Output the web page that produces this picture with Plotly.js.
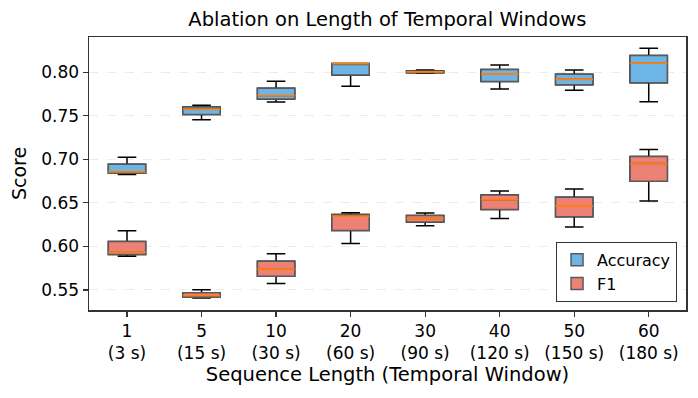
<!DOCTYPE html>
<html>
<head>
<meta charset="utf-8">
<script src="https://cdn.plot.ly/plotly-3.0.1.min.js"></script>
<style>
  html, body { margin: 0; padding: 0; background: #fff; }
  #chart { width: 698px; height: 398px; }
</style>
</head>
<body>
<div id="chart"></div>
<script>
// sequence lengths and their windows
var seqLens = ['1', '5', '10', '20', '30', '40', '50', '60'];
var windows = ['3 s', '15 s', '30 s', '60 s', '90 s', '120 s', '150 s', '180 s'];

// Accuracy box stats
var accLow = [0.6825, 0.7455, 0.7658, 0.7839, 0.7990, 0.7808, 0.7793, 0.7662];
var accQ1  = [0.6840, 0.7516, 0.7693, 0.7969, 0.7995, 0.7893, 0.7858, 0.7881];
var accMed = [0.6856, 0.7574, 0.7731, 0.8100, 0.8004, 0.7980, 0.7920, 0.8104];
var accQ3  = [0.6945, 0.7600, 0.7816, 0.8100, 0.8015, 0.8031, 0.7977, 0.8192];
var accHigh = [0.7025, 0.7620, 0.7896, 0.8100, 0.8025, 0.8084, 0.8027, 0.8276];

// F1 box stats
var f1Low = [0.5888, 0.5408, 0.5573, 0.6033, 0.6237, 0.6321, 0.6222, 0.6522];
var f1Q1  = [0.5907, 0.5415, 0.5658, 0.6183, 0.6280, 0.6425, 0.6341, 0.6748];
var f1Med = [0.5934, 0.5434, 0.5738, 0.6349, 0.6321, 0.6537, 0.6464, 0.6952];
var f1Q3  = [0.6057, 0.5469, 0.5831, 0.6368, 0.6356, 0.6591, 0.6564, 0.7032];
var f1High = [0.6180, 0.5503, 0.5915, 0.6387, 0.6384, 0.6637, 0.6660, 0.7113];

var pos = seqLens.map(function (_, i) { return i; });
var tickText = seqLens.map(function (s, i) { return s + '<br>(' + windows[i] + ')'; });
var boxW = 0.5;

function whiskers(low, q1, med, q3, high) {
  return {
    type: 'box', x: pos, q1: q1, median: med, q3: q3,
    lowerfence: low, upperfence: high,
    width: boxW, whiskerwidth: 0.5,
    line: { color: '#000', width: 1.5 },
    fillcolor: 'rgba(0,0,0,0)',
    showlegend: false, hoverinfo: 'skip'
  };
}

function boxes(name, q1, med, q3, fill) {
  return {
    type: 'box', name: name, x: pos, q1: q1, median: med, q3: q3,
    lowerfence: q1, upperfence: q3,
    width: boxW, whiskerwidth: 0,
    line: { color: '#5a5a5a', width: 1.5 },
    fillcolor: fill,
    hoverinfo: 'skip'
  };
}

function medians(med) {
  var xs = [], ys = [];
  med.forEach(function (m, i) {
    xs.push(pos[i] - boxW / 2, pos[i] + boxW / 2, null);
    ys.push(m, m, null);
  });
  return {
    type: 'scatter', mode: 'lines', x: xs, y: ys,
    line: { color: '#ff7f0e', width: 1.8 },
    showlegend: false, hoverinfo: 'skip'
  };
}

var data = [
  whiskers(accLow, accQ1, accMed, accQ3, accHigh),
  boxes('Accuracy', accQ1, accMed, accQ3, '#6db5e6'),
  medians(accMed),
  whiskers(f1Low, f1Q1, f1Med, f1Q3, f1High),
  boxes('F1', f1Q1, f1Med, f1Q3, '#ee8176'),
  medians(f1Med)
];

var layout = {
  width: 698, height: 398,
  margin: { l: 89, r: 12, t: 37, b: 88 },
  paper_bgcolor: '#fff', plot_bgcolor: '#fff',
  font: { family: 'DejaVu Sans, sans-serif', size: 17, color: '#000' },
  title: { text: 'Ablation on Length of Temporal Windows', font: { size: 19.5 }, x: 0.555, xanchor: 'center', yref: 'container', y: 0.952, yanchor: 'middle' },
  boxmode: 'overlay',
  xaxis: {
    range: [-0.51, 7.5],
    tickvals: pos, ticktext: tickText,
    ticks: 'outside', ticklen: 5, tickwidth: 1.2, tickcolor: '#333',
    showline: true, linecolor: '#333', linewidth: 1.5, mirror: true,
    showgrid: false, zeroline: false,
    title: { text: 'Sequence Length (Temporal Window)', font: { size: 19.5 }, standoff: 4 }
  },
  yaxis: {
    range: [0.527, 0.8405],
    tickvals: [0.55, 0.60, 0.65, 0.70, 0.75, 0.80],
    tickformat: '.2f',
    ticks: 'outside', ticklen: 5, tickwidth: 1.2, tickcolor: '#333',
    showline: true, linecolor: '#333', linewidth: 1.5, mirror: true,
    showgrid: true, gridcolor: '#e6e6e6', griddash: 'dash', gridwidth: 0.8,
    zeroline: false,
    title: { text: 'Score', font: { size: 19 }, standoff: 9 }
  },
  legend: {
    x: 0.985, xanchor: 'right', y: 0.03, yanchor: 'bottom',
    bgcolor: '#fff', bordercolor: '#333', borderwidth: 1,
    font: { size: 16 }, tracegroupgap: 0
  },
  showlegend: true
};

Plotly.newPlot('chart', data, layout, { displayModeBar: false, staticPlot: true });
</script>
</body>
</html>
